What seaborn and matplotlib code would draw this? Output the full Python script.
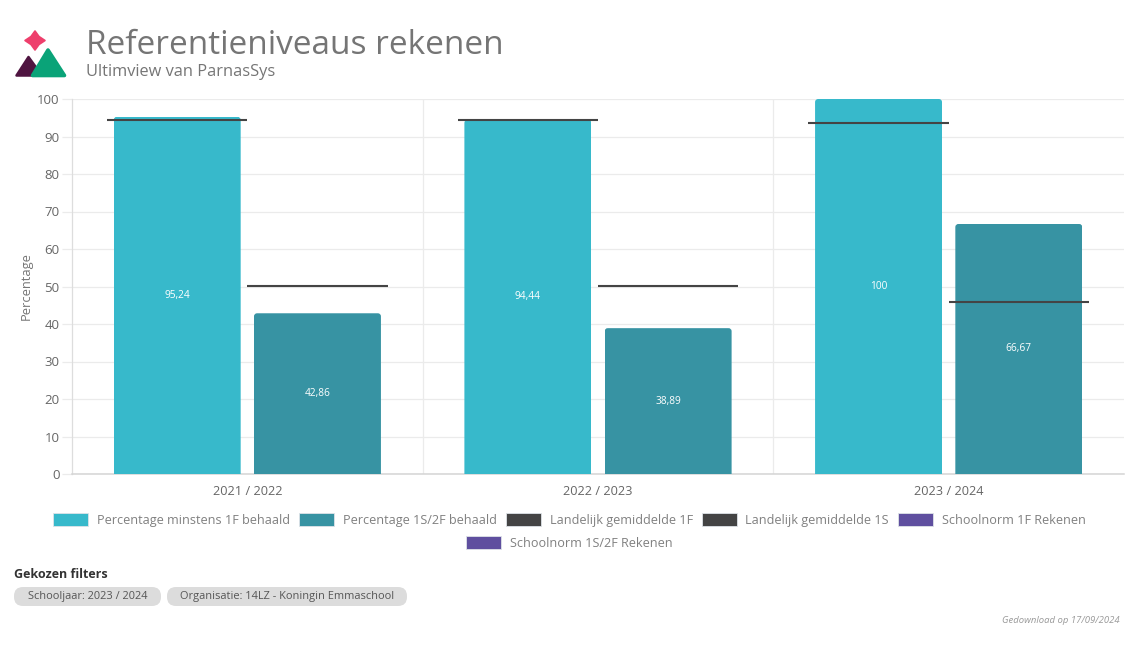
import matplotlib
matplotlib.use("Agg")
import matplotlib.pyplot as plt
import seaborn as sns
import pandas as pd
from matplotlib.patches import FancyBboxPatch, Patch, Polygon

years = ["2021 / 2022", "2022 / 2023", "2023 / 2024"]
pct_1f = [95.24, 94.44, 100]
pct_1s = [42.86, 38.89, 66.67]
labels_1f = ["95,24", "94,44", "100"]
labels_1s = ["42,86", "38,89", "66,67"]
nat_1f = [94.3, 94.3, 93.6]
nat_1s = [50.2, 50.2, 46.0]
series_1f = "Percentage minstens 1F behaald"
series_1s = "Percentage 1S/2F behaald"
legend_row1 = [series_1f, series_1s, "Landelijk gemiddelde 1F", "Landelijk gemiddelde 1S", "Schoolnorm 1F Rekenen"]
legend_row2 = ["Schoolnorm 1S/2F Rekenen"]
filters = ["Schooljaar: 2023 / 2024", "Organisatie: 14LZ - Koningin Emmaschool"]

C1, C2, DARK, PURPLE = "#37b9cb", "#3793a3", "#444444", "#5f4f9f"
TXT = "#757575"
W, H = 1140, 646

sns.set_theme(style="white")
plt.rcParams["font.family"] = ["Open Sans", "DejaVu Sans"]

df = pd.DataFrame({
    "year": years * 2,
    "value": pct_1f + pct_1s,
    "series": [series_1f] * 3 + [series_1s] * 3,
})

fig = plt.figure(figsize=(W / 100, H / 100), dpi=100, facecolor="white")
ax = fig.add_axes([72 / W, 1 - 474 / H, (1124 - 72) / W, (474 - 99) / H])

sns.barplot(data=df, x="year", y="value", hue="series", palette=[C1, C2],
            width=0.8, gap=0.095, legend=False, ax=ax, zorder=3, saturation=1)
ax.set_xlim(-0.5, 2.5)
ax.set_ylim(0, 100)

# rounded top corners
for bar in ax.patches:
    x, y, w, h = bar.get_x(), bar.get_y(), bar.get_width(), bar.get_height()
    clip = FancyBboxPatch((x, y - 5), w, h + 5, boxstyle="round,pad=0,rounding_size=0.009",
                          mutation_aspect=90, transform=ax.transData)
    bar.set_clip_path(clip)
    bar.set_linewidth(0)

for cont, labs in zip(ax.containers, [labels_1f, labels_1s]):
    ax.bar_label(cont, labels=labs, label_type="center", color="white", fontsize=7.3, zorder=5)

# national average lines
positions = range(len(years))
ax.hlines(nat_1f, [p - 0.4 for p in positions], list(positions), color=DARK, lw=1.5, zorder=4)
ax.hlines(nat_1s, list(positions), [p + 0.4 for p in positions], color=DARK, lw=1.5, zorder=4)

# grid and axes
ax.set_yticks(range(0, 101, 10))
ax.yaxis.grid(True, color="#ebebeb", lw=0.9, zorder=0)
ax.set_axisbelow(True)
for p in (0.5, 1.5):
    ax.axvline(p, color="#ebebeb", lw=0.9, zorder=0)
ax.set_xticks([-0.5, 0.5, 1.5, 2.5], minor=True)
ax.tick_params(axis="x", which="minor", length=7, color="#ebebeb", width=0.9)
ax.tick_params(axis="x", which="major", length=0, pad=8, labelsize=9.2, labelcolor="#666666")
ax.tick_params(axis="y", length=7, color="#ebebeb", width=0.9, pad=2, labelsize=9.5, labelcolor="#666666", left=True)
for s in ("top", "right"):
    ax.spines[s].set_visible(False)
ax.spines["left"].set_color("#dddddd")
ax.spines["bottom"].set_color("#d4d4d4")
ax.spines["left"].set_linewidth(0.9)
ax.spines["bottom"].set_linewidth(1.1)
ax.set_xlabel("")
ax.set_ylabel("")
fig.text(26 / W, 1 - 286 / H, "Percentage", rotation=90, color=TXT, fontsize=9.3, ha="center", va="center")

# legend
colors = {legend_row1[0]: C1, legend_row1[1]: C2, legend_row1[2]: DARK, legend_row1[3]: DARK,
          legend_row1[4]: PURPLE, legend_row2[0]: PURPLE}
for names, ypx in ((legend_row1, 520), (legend_row2, 543)):
    handles = [Patch(facecolor=colors[n], edgecolor="#dfe3e8", lw=0.6, label=n) for n in names]
    leg = fig.legend(handles=handles, ncol=len(names), loc="center", bbox_to_anchor=(569.5 / W, 1 - ypx / H),
                     frameon=False, fontsize=9.1, handlelength=2.77, handleheight=1.15,
                     handletextpad=0.7, columnspacing=0.70, labelcolor="#808080", borderpad=0)

# header
fig.text(86 / W, 1 - 45 / H, "Referentieniveaus rekenen", fontsize=24, color=TXT, va="center", ha="left")
fig.text(86 / W, 1 - 72 / H, "Ultimview van ParnasSys", fontsize=11.8, color=TXT, va="center", ha="left")

# logo
logo = fig.add_axes([0, 0, 1, 1], zorder=-1)
logo.set_xlim(0, W)
logo.set_ylim(H, 0)
logo.axis("off")
logo.patch.set_alpha(0)
logo.add_patch(Polygon([(16.5, 75.5), (28.5, 57), (42, 75.5)], closed=True, facecolor="#4f1440", edgecolor="#4f1440", lw=1.8, joinstyle="round"))
logo.add_patch(Polygon([(32.5, 75.5), (48, 50), (64.5, 75.5)], closed=True, facecolor="#0aa378", edgecolor="#0aa378", lw=2.6, joinstyle="round"))
logo.add_patch(Polygon([(35, 31), (39, 36.5), (45, 40.5), (39, 44.5), (35, 50), (31, 44.5), (25, 40.5), (31, 36.5)],
                       closed=True, facecolor="#ee3f6c", edgecolor="#ee3f6c", lw=1.2, joinstyle="round"))

# filters
fig.text(14 / W, 1 - 574 / H, "Gekozen filters", fontsize=9, fontweight="bold", color="#333333", va="center", ha="left")
for txt, x0, x1 in zip(filters, (14, 167), (161, 407)):
    logo.add_patch(FancyBboxPatch((x0 + 9, 587 + 9), x1 - x0 - 18, 1, boxstyle="round,pad=9,rounding_size=9",
                                  facecolor="#dcdcdc", edgecolor="none"))
    logo.text((x0 + x1) / 2, 597, txt, fontsize=7.95, color="#555555", ha="center", va="center")
fig.text(1120 / W, 1 - 620.5 / H, "Gedownload op 17/09/2024", fontsize=6.8, style="italic", color="#999999", ha="right", va="center")

fig.savefig("out.png", dpi=100, facecolor="white")
